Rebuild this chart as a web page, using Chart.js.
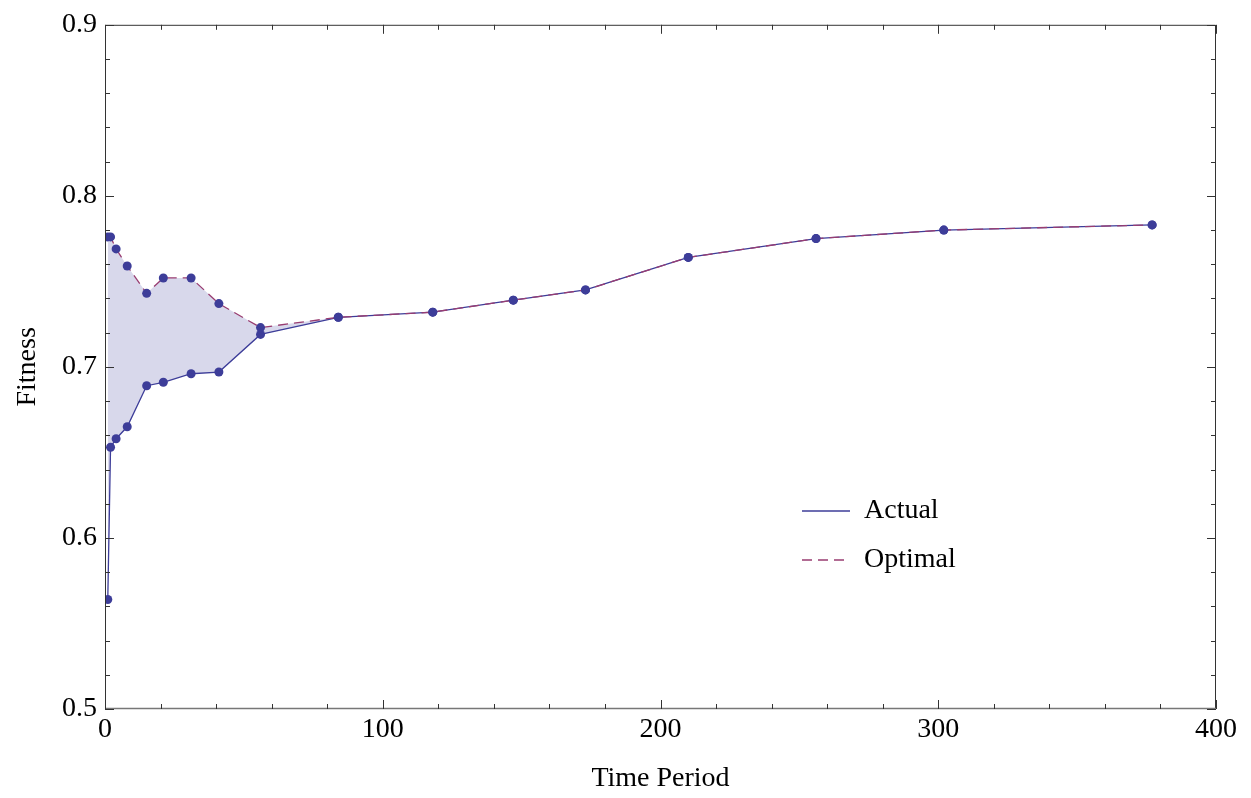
<!DOCTYPE html>
<html>
<head>
<meta charset="utf-8">
<script src="https://cdn.jsdelivr.net/npm/chart.js@4/dist/chart.umd.min.js"></script>
<style>
  html, body { margin: 0; padding: 0; background: #fff; }
  #wrap { width: 1251px; height: 798px; }
</style>
</head>
<body>
<div id="wrap"><canvas id="chart" width="1251" height="798"></canvas></div>
<script>
// values
var periods = [1, 2, 4, 8, 15, 21, 31, 41, 56, 84, 118, 147, 173, 210, 256, 302, 377];
var actual  = [0.564, 0.653, 0.658, 0.665, 0.689, 0.691, 0.696, 0.697, 0.719, 0.729, 0.732, 0.739, 0.745, 0.764, 0.775, 0.780, 0.783];
var optimal = [0.776, 0.776, 0.769, 0.759, 0.743, 0.752, 0.752, 0.737, 0.723, 0.729, 0.732, 0.739, 0.745, 0.764, 0.775, 0.780, 0.783];

var xMajor = [0, 100, 200, 300, 400];
var xMinor = [20, 40, 60, 80, 120, 140, 160, 180, 220, 240, 260, 280, 320, 340, 360, 380];
var yMajor = [0.5, 0.6, 0.7, 0.8, 0.9];
var yMinor = [0.52, 0.54, 0.56, 0.58, 0.62, 0.64, 0.66, 0.68, 0.72, 0.74, 0.76, 0.78, 0.82, 0.84, 0.86, 0.88];

var blue = 'rgb(61,61,153)';
var rose = 'rgb(153,61,113)';
var font = '"Liberation Serif", "Times New Roman", serif';

function pts(ys) {
  return periods.map(function(p, i) { return {x: p, y: ys[i]}; });
}

// frame, inward ticks on all four sides, and the legend
var framePlugin = {
  id: 'frame',
  afterDraw: function(chart) {
    var ctx = chart.ctx;
    var a = chart.chartArea;
    var xs = chart.scales.x, ys = chart.scales.y;
    ctx.save();
    ctx.strokeStyle = '#333';
    ctx.lineWidth = 1;
    ctx.beginPath();
    ctx.moveTo(a.left + 0.5, a.bottom);
    ctx.lineTo(a.left + 0.5, a.top + 0.5);
    ctx.lineTo(a.right - 0.5, a.top + 0.5);
    ctx.lineTo(a.right - 0.5, a.bottom);
    ctx.stroke();
    ctx.strokeStyle = '#777';
    ctx.lineWidth = 1.5;
    ctx.beginPath();
    ctx.moveTo(a.left, a.bottom - 0.5);
    ctx.lineTo(a.right, a.bottom - 0.5);
    ctx.stroke();

    ctx.strokeStyle = '#333';
    ctx.lineWidth = 1;
    ctx.beginPath();
    function xt(v, len) {
      var px = Math.round(xs.getPixelForValue(v)) + 0.5;
      ctx.moveTo(px, a.bottom); ctx.lineTo(px, a.bottom - len);
      ctx.moveTo(px, a.top); ctx.lineTo(px, a.top + len);
    }
    function yt(v, len) {
      var py = Math.round(ys.getPixelForValue(v)) + 0.5;
      ctx.moveTo(a.left, py); ctx.lineTo(a.left + len, py);
      ctx.moveTo(a.right, py); ctx.lineTo(a.right - len, py);
    }
    xMajor.forEach(function(v) { xt(v, 9); });
    xMinor.forEach(function(v) { xt(v, 5); });
    yMajor.forEach(function(v) { yt(v, 9); });
    yMinor.forEach(function(v) { yt(v, 5); });
    ctx.stroke();

    // legend
    var items = chart.data.datasets.slice().reverse();
    var ly = [511, 560];
    ctx.font = '28px ' + font;
    ctx.textBaseline = 'middle';
    ctx.fillStyle = '#000';
    items.forEach(function(ds, i) {
      ctx.strokeStyle = ds.borderColor;
      ctx.lineWidth = 1.3;
      ctx.setLineDash(ds.borderDash || []);
      ctx.beginPath();
      ctx.moveTo(802, ly[i]);
      ctx.lineTo(850, ly[i]);
      ctx.stroke();
      ctx.setLineDash([]);
      ctx.fillText(ds.label, 864, ly[i]);
    });
    ctx.restore();
  }
};

var ctx = document.getElementById('chart');
new Chart(ctx, {
  type: 'line',
  data: {
    datasets: [{
      label: 'Optimal',
      data: pts(optimal),
      borderColor: rose,
      borderWidth: 1.3,
      borderDash: [10, 6],
      pointRadius: 4.5,
      pointBackgroundColor: blue,
      pointBorderWidth: 0,
      fill: '+1',
      backgroundColor: 'rgba(61,61,153,0.2)',
      tension: 0
    }, {
      label: 'Actual',
      data: pts(actual),
      borderColor: blue,
      borderWidth: 1.3,
      pointRadius: 4.5,
      pointBackgroundColor: blue,
      pointBorderWidth: 0,
      fill: false,
      tension: 0
    }]
  },
  options: {
    responsive: false,
    animation: false,
    layout: { padding: { left: 0, right: 35, top: 23, bottom: 0 } },
    plugins: {
      legend: { display: false },
      tooltip: { enabled: false },
      filler: { drawTime: 'beforeDatasetsDraw' }
    },
    scales: {
      x: {
        type: 'linear',
        min: 0, max: 400,
        grid: { display: false, drawTicks: false },
        border: { display: false },
        ticks: {
          stepSize: 100,
          padding: 4,
          color: '#000',
          font: { family: font, size: 28 },
          maxRotation: 0
        },
        title: {
          display: true,
          text: 'Time Period',
          color: '#000',
          font: { family: font, size: 28 },
          padding: { top: 0, bottom: 3 }
        },
        afterFit: function(scale) { scale.height = 89; }
      },
      y: {
        type: 'linear',
        min: 0.5, max: 0.9,
        grid: { display: false, drawTicks: false },
        border: { display: false },
        ticks: {
          stepSize: 0.1,
          padding: 8,
          color: '#000',
          font: { family: font, size: 28 },
          callback: function(v) { return v.toFixed(1); }
        },
        title: {
          display: true,
          text: 'Fitness',
          color: '#000',
          font: { family: font, size: 28 },
          padding: { top: 11, bottom: 0 }
        },
        afterFit: function(scale) { scale.width = 105; }
      }
    }
  },
  plugins: [framePlugin]
});
</script>
</body>
</html>
